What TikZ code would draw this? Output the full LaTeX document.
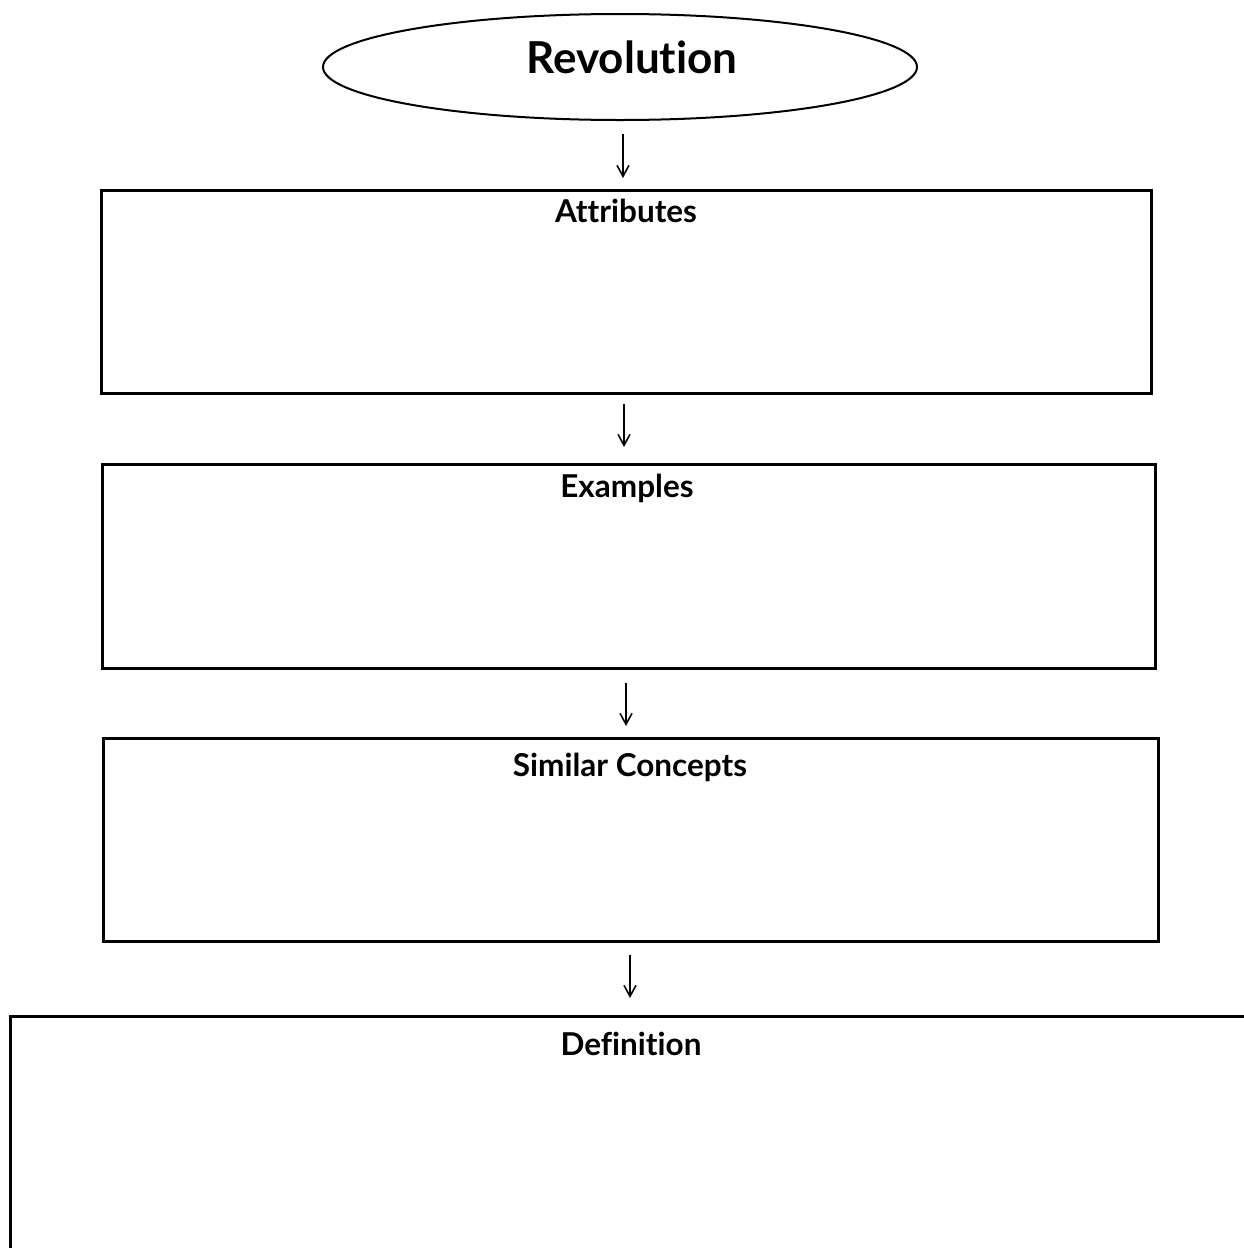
\documentclass[tikz,border=0pt]{standalone}
\usepackage{fontspec}
\setmainfont{Lato}[Ligatures=NoCommon]
\usetikzlibrary{shapes.geometric,arrows.meta}
\begin{document}
\begin{tikzpicture}[x=1pt,y=-1pt,
  boxst/.style={draw=black,line width=3pt},
  titlest/.style={font=\fontsize{31.5}{35}\selectfont\bfseries,anchor=base},
  arr/.style={line width=1.6pt,-{Straight Barb[length=11pt,width=12pt,line width=1.6pt]}}]
\useasboundingbox (0,0) rectangle (1244,1248);
\clip (0,0) rectangle (1244,1248);
% ellipse
\node[draw,ellipse,line width=2pt,minimum width=594pt,minimum height=106pt,inner sep=0pt] (rev) at (620,67) {};
\node[font=\fontsize{44}{48}\selectfont\bfseries,anchor=base] (revt) at (632,73) {Revolution};
% boxes
\draw[boxst] (101,190) rectangle (1151,393);
\node[titlest] (t1) at (626,222) {Attributes};
\draw[boxst] (102,464) rectangle (1155,668);
\node[titlest] (t2) at (627,497) {Examples};
\draw[boxst] (103,738) rectangle (1158,941);
\node[titlest] (t3) at (630,776) {Similar Concepts};
\draw[boxst] (10,1016) rectangle (1260,1300);
\node[titlest] (t4) at (631,1055) {Definition};
% arrows
\coordinate (a1s) at (623,134);
\coordinate (a1e) at (623,178);
\coordinate (a2s) at (624,404);
\coordinate (a2e) at (624,447);
\coordinate (a3s) at (626,683);
\coordinate (a3e) at (626,726);
\coordinate (a4s) at (630,955);
\coordinate (a4e) at (630,998);
\draw[arr] (a1s) -- (a1e);
\draw[arr] (a2s) -- (a2e);
\draw[arr] (a3s) -- (a3e);
\draw[arr] (a4s) -- (a4e);
\end{tikzpicture}
\end{document}
